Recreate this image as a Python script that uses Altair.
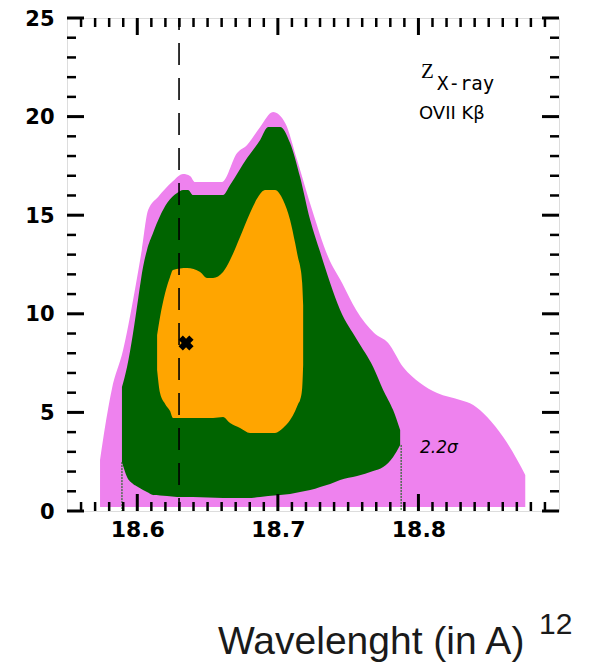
import altair as alt
import pandas as pd

# ---------------- data ----------------
violet_x = [18.5735, 18.5756, 18.5818, 18.5899, 18.5970, 18.6032, 18.6077, 18.6148, 18.6247, 18.6326,
            18.6375, 18.6411, 18.6603, 18.6710, 18.6781, 18.6874, 18.6966, 18.7052, 18.7137, 18.7244,
            18.7358, 18.7457, 18.7557, 18.7685, 18.7785, 18.7891, 18.8012, 18.8133, 18.8297, 18.8390,
            18.8489, 18.8603, 18.8703, 18.8760]
violet_top = [2.59, 3.60, 6.14, 8.16, 10.70, 13.24, 15.26, 15.92, 16.68, 17.09,
              16.99, 16.68, 16.68, 18.15, 18.56, 19.47, 20.23, 19.68, 17.80, 15.26,
              12.88, 11.56, 10.19, 9.03, 8.52, 7.30, 6.49, 5.98, 5.63, 5.38,
              4.77, 3.75, 2.59, 1.83]
violet_bottom = [0.2, 0.2, 0.2, 0.2, 0.2, 0.2, 0.2, 0.2, 0.2, 0.2,
                 0.2, 0.2, 0.2, 0.2, 0.2, 0.2, 0.2, 0.2, 0.2, 0.2,
                 0.2, 0.2, 0.2, 0.2, 0.2, 0.2, 0.2, 0.2, 0.2, 0.2,
                 0.2, 0.2, 0.2, 0.2]

green_x = [18.5891, 18.5927, 18.5970, 18.6005, 18.6041, 18.6069, 18.6112, 18.6212, 18.6283, 18.6326,
           18.6361, 18.6397, 18.6610, 18.6660, 18.6781, 18.6874, 18.6931, 18.7016, 18.7087, 18.7158,
           18.7230, 18.7301, 18.7372, 18.7443, 18.7564, 18.7678, 18.7749, 18.7820, 18.7870]
green_top = [6.29, 7.30, 9.03, 10.70, 12.37, 13.24, 14.10, 15.62, 16.13, 16.28,
             16.28, 16.02, 16.02, 16.53, 17.90, 18.81, 19.47, 19.47, 18.66, 16.94,
             14.76, 13.13, 11.56, 10.19, 8.67, 7.30, 6.14, 5.12, 4.11]
green_bottom = [2.48, 1.72, 1.37, 1.22, 1.06, 0.96, 0.81, 0.76, 0.71, 0.71,
                0.71, 0.71, 0.66, 0.66, 0.66, 0.71, 0.76, 0.81, 0.86, 0.96,
                1.06, 1.22, 1.37, 1.57, 1.77, 2.03, 2.23, 2.74, 3.35]

orange_x = [18.6141, 18.6162, 18.6198, 18.6233, 18.6254, 18.6354, 18.6447, 18.6496, 18.6539, 18.6610,
            18.6660, 18.6731, 18.6802, 18.6859, 18.6909, 18.6980, 18.7037, 18.7087, 18.7123, 18.7144,
            18.7158, 18.7173, 18.7180]
orange_top = [8.92, 9.84, 11.05, 11.87, 12.22, 12.32, 12.12, 11.82, 11.82, 12.12,
              12.73, 13.89, 15.11, 15.92, 16.28, 16.28, 15.77, 14.76, 13.59, 12.83,
              12.42, 11.56, 10.45]
orange_bottom = [7.15, 5.98, 5.43, 5.07, 4.72, 4.72, 4.72, 4.72, 4.72, 4.77,
                 4.46, 4.21, 3.96, 3.96, 3.96, 3.96, 4.21, 4.61, 5.07, 5.43,
                 5.63, 6.24, 7.40]

dash_x = [18.6297]
dash_top = [25.0]
dash_bottom = [0.0]

edge_x = [18.5891, 18.7877]
edge_top = [2.48, 3.35]
edge_bottom = [0.0, 0.0]

best_x = [18.6347]
best_y = [8.52]

x_major = [18.6, 18.7, 18.8]
x_minor = [18.56, 18.57, 18.58, 18.59, 18.61, 18.62, 18.63, 18.64, 18.65, 18.66, 18.67, 18.68,
           18.69, 18.71, 18.72, 18.73, 18.74, 18.75, 18.76, 18.77, 18.78, 18.79, 18.81, 18.82,
           18.83, 18.84, 18.85, 18.86, 18.87, 18.88, 18.89]
y_major = [0, 5, 10, 15, 20, 25]
y_minor = [1, 2, 3, 4, 6, 7, 8, 9, 11, 12, 13, 14, 16, 17, 18, 19, 21, 22, 23, 24]

label_z = "Z"
label_sub = "X-ray"
label_line = "OVII Kβ"
label_sigma = "2.2σ"
axis_title = "Wavelenght (in A)"
page_number = "12"

# ---------------- chart ----------------
W, H = 492, 493
xs = alt.Scale(domain=[18.55, 18.9], nice=False, zero=False)
ys = alt.Scale(domain=[0, 25], nice=False, zero=False)

VIOLET = "#EE82EE"
GREEN = "#006400"
ORANGE = "#FFA500"

x_label_axis = alt.Axis(orient="bottom", values=x_major, ticks=False, tickSize=0,
                        labels=True, labelFont="DejaVu Sans", labelFontSize=22,
                        labelFontWeight="bold", labelColor="black", labelPadding=8,
                        labelFlush=False, labelOverlap=False, format=".1f",
                        domain=False, grid=False, title=None)
y_label_axis = alt.Axis(orient="left", values=y_major, ticks=False, tickSize=0,
                        labels=True, labelFont="DejaVu Sans", labelFontSize=21,
                        labelFontWeight="bold", labelColor="black", labelPadding=13,
                        labelOffset=1,
                        labelFlush=False, labelOverlap=False, format="d",
                        domain=False, grid=False, title=None)

violet_df = pd.DataFrame({"x": violet_x, "top": violet_top, "bottom": violet_bottom})
green_df = pd.DataFrame({"x": green_x, "top": green_top, "bottom": green_bottom})
orange_df = pd.DataFrame({"x": orange_x, "top": orange_top, "bottom": orange_bottom})

violet = alt.Chart(violet_df).mark_area(color=VIOLET, opacity=1, interpolate="monotone").encode(
    x=alt.X("x:Q", scale=xs, axis=x_label_axis),
    y=alt.Y("top:Q", scale=ys, axis=y_label_axis),
    y2="bottom:Q",
)
green = alt.Chart(green_df).mark_area(color=GREEN, opacity=1, interpolate="monotone").encode(
    x=alt.X("x:Q", scale=xs, axis=None),
    y=alt.Y("top:Q", scale=ys, axis=None),
    y2="bottom:Q",
)
orange = alt.Chart(orange_df).mark_area(color=ORANGE, opacity=1, interpolate="monotone").encode(
    x=alt.X("x:Q", scale=xs, axis=None),
    y=alt.Y("top:Q", scale=ys, axis=None),
    y2="bottom:Q",
)

dash = alt.Chart(pd.DataFrame({"x": dash_x, "top": dash_top, "bottom": dash_bottom})).mark_rule(
    color="black", strokeWidth=1.6, strokeDash=[22, 13], strokeDashOffset=10
).encode(
    x=alt.X("x:Q", scale=xs, axis=None),
    y=alt.Y("top:Q", scale=ys, axis=None),
    y2="bottom:Q",
)

edges = alt.Chart(pd.DataFrame({"x": edge_x, "top": edge_top, "bottom": edge_bottom})).mark_rule(
    color=GREEN, strokeWidth=1, strokeDash=[2, 1]
).encode(
    x=alt.X("x:Q", scale=xs, axis=None),
    y=alt.Y("top:Q", scale=ys, axis=None),
    y2="bottom:Q",
)

best = alt.Chart(pd.DataFrame({"x": best_x, "y": best_y})).mark_point(
    shape="cross", angle=45, filled=True, size=230, color="black", opacity=1
).encode(
    x=alt.X("x:Q", scale=xs, axis=None),
    y=alt.Y("y:Q", scale=ys, axis=None),
)


# inward tick marks on all four sides (positions from the tick value lists)
def xticks(values, y0, y1, width):
    return alt.Chart(pd.DataFrame({"v": values})).mark_rule(color="black", strokeWidth=width).encode(
        x=alt.X("v:Q", scale=xs, axis=None), y=alt.value(y0), y2=alt.value(y1))


def yticks(values, x0, x1, width):
    return alt.Chart(pd.DataFrame({"v": values})).mark_rule(color="black", strokeWidth=width).encode(
        y=alt.Y("v:Q", scale=ys, axis=None), x=alt.value(x0), x2=alt.value(x1))


ticks = [
    xticks(x_major, H, H - 17, 3), xticks(x_major, 0, 17, 3),
    xticks(x_minor, H, H - 9, 2.5), xticks(x_minor, 0, 9, 2.5),
    yticks(y_major, 0, 17, 3), yticks(y_major, W, W - 17, 3),
    yticks(y_minor, 0, 9, 2.5), yticks(y_minor, W, W - 9, 2.5),
]


def text_layer(txt, px, py, font, size, weight="normal", style="normal", color="black"):
    return alt.Chart(pd.DataFrame({"t": [txt]})).mark_text(
        align="left", baseline="alphabetic", font=font, fontSize=size,
        fontWeight=weight, fontStyle=style, color=color
    ).encode(text="t:N", x=alt.value(px), y=alt.value(py))


texts = [
    text_layer(label_z, 354, 60, "Liberation Serif", 21),
    text_layer(label_sub, 370, 72, "DejaVu Sans Mono", 19),
    text_layer(label_line, 352, 101, "DejaVu Sans", 18),
    text_layer(label_sigma, 353, 435, "DejaVu Sans", 17, style="italic"),
    text_layer(axis_title, 151, 636, "Liberation Sans", 39, color="#1a1a1a"),
    text_layer(page_number, 472, 616, "Liberation Sans", 30, color="#1a1a1a"),
]

chart = alt.layer(violet, green, orange, edges, dash, best, *ticks, *texts).resolve_axis(
    x="independent", y="independent"
).properties(
    width=W, height=H,
    autosize=alt.AutoSizeParams(type="none"),
    padding={"left": 59, "top": 10, "right": 25, "bottom": 153},
).configure_view(stroke="black", strokeWidth=3).configure(background="white")

chart.save("out.html", embed_options={"renderer": "svg", "actions": False})
